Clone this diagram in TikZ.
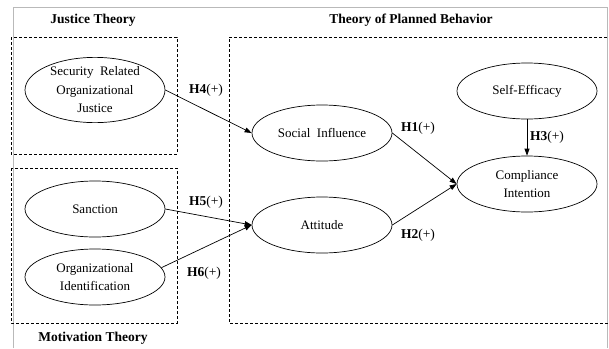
\documentclass[tikz,border=0pt]{standalone}
\usepackage{fontspec}
\setmainfont{Liberation Serif}
\usetikzlibrary{shapes.geometric,arrows.meta}
\begin{document}
\begin{tikzpicture}[x=1pt,y=-1pt,
  construct/.style={draw, ellipse, line width=0.7pt, minimum width=140pt, minimum height=56pt,
    inner sep=0pt, align=center, font=\fontsize{13}{18.5}\selectfont},
  theory/.style={font=\fontsize{13.5}{16}\selectfont\bfseries},
  hyp/.style={font=\fontsize{13.5}{16}\selectfont, inner sep=0pt},
  group/.style={draw, dashed, dash pattern=on 3pt off 2pt, line width=0.7pt},
  link/.style={line width=0.7pt, -{Triangle[length=7pt,width=5pt]}}]
\useasboundingbox (0,0) rectangle (609,348);
\draw[gray!55, line width=0.8pt] (13,348) -- (13,7) -- (607,7) -- (607,348);

\draw[group] (11,37) rectangle (177,154);
\draw[group] (11,168) rectangle (177,323);
\draw[group] (612,37) -- (229,37) -- (229,323) -- (612,323);

\node[theory] (jt) at (93,20) {Justice Theory};
\node[theory] (tpb) at (411,20) {Theory of Planned Behavior};
\node[theory] (mt) at (93,338) {Motivation Theory};

\node[construct] (sec) at (95,90) {Security\ \ Related\\Organizational\\Justice};
\node[construct] (san) at (95,209) {Sanction};
\node[construct] (oid) at (95,277) {Organizational\\Identification};
\node[construct] (soc) at (322,133) {Social\ \ Influence};
\node[construct] (att) at (322,225) {Attitude};
\node[construct] (sel) at (527,91) {Self-Efficacy};
\node[construct] (com) at (527,184) {Compliance\\Intention};

\draw[link] (sec.east) -- (soc.west);
\draw[link] (san.east) -- (att.west);
\draw[link] (oid.8) -- (att.west);
\draw[link] (soc.east) -- (com.west);
\draw[link] (att.east) -- (com.west);
\draw[link] (sel.south) -- (com.north);

\node[hyp] (h4) at (206,90) {\textbf{H4}(+)};
\node[hyp] (h5) at (206,202) {\textbf{H5}(+)};
\node[hyp] (h6) at (204,273) {\textbf{H6}(+)};
\node[hyp] (h1) at (418,128) {\textbf{H1}(+)};
\node[hyp] (h2) at (418,235) {\textbf{H2}(+)};
\node[hyp] (h3) at (547,137) {\textbf{H3}(+)};
\end{tikzpicture}
\end{document}
